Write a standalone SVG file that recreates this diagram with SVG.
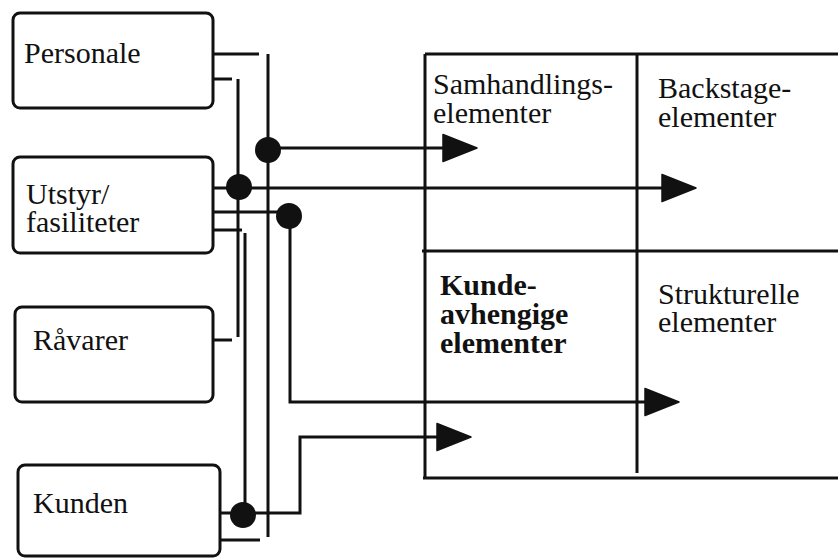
<svg xmlns="http://www.w3.org/2000/svg" width="838" height="558" viewBox="0 0 838 558">
<style>
.box{fill:#fff;stroke:#111;stroke-width:3}
.ln{fill:none;stroke:#111;stroke-width:3;stroke-linecap:butt;stroke-linejoin:miter}
.dot{fill:#111}
.t{font-family:'Liberation Serif','DejaVu Serif',serif;font-size:30px;fill:#111}
.b{font-weight:bold}
</style>
<defs>
<marker id="ah" markerUnits="userSpaceOnUse" markerWidth="36" markerHeight="28" refX="0" refY="13.5" orient="auto" overflow="visible">
<path d="M0,0 L34,13.5 L0,27 Z" fill="#111" stroke="#111" stroke-width="1.5" stroke-linejoin="round"/>
</marker>
</defs>
<rect width="838" height="558" fill="#fff"/>

<g id="personale">
<rect class="box" x="13" y="13" width="200" height="95" rx="7"/>
<text class="t" x="24" y="63" font-family="Liberation Serif, DejaVu Serif, serif">Personale</text>
</g>
<g id="utstyr">
<rect class="box" x="13" y="157" width="200" height="96" rx="7"/>
<text class="t" x="26" y="204" font-family="Liberation Serif, DejaVu Serif, serif"><tspan x="26">Utstyr/</tspan><tspan x="26" dy="28">fasiliteter</tspan></text>
</g>
<g id="ravarer">
<rect class="box" x="15" y="307" width="198" height="95" rx="7"/>
<text class="t" x="33" y="350" font-family="Liberation Serif, DejaVu Serif, serif">Råvarer</text>
</g>
<g id="kunden">
<rect class="box" x="18" y="465" width="202" height="91" rx="7"/>
<text class="t" x="33" y="513" font-family="Liberation Serif, DejaVu Serif, serif">Kunden</text>
</g>

<g id="elementer">
<path class="ln" d="M425,54 H838 M425,54 V478 M423,478 H838 M637,54 V473 M422,251 H838"/>
<text class="t" x="433" y="94" font-family="Liberation Serif, DejaVu Serif, serif"><tspan x="433">Samhandlings-</tspan><tspan x="433" dy="29">elementer</tspan></text>
<text class="t" x="658" y="98" font-family="Liberation Serif, DejaVu Serif, serif"><tspan x="658">Backstage-</tspan><tspan x="658" dy="29">elementer</tspan></text>
<text class="t b" x="440" y="295" font-family="Liberation Serif, DejaVu Serif, serif"><tspan x="440">Kunde-</tspan><tspan x="440" dy="29">avhengige</tspan><tspan x="440" dy="29">elementer</tspan></text>
<text class="t" x="658" y="304" font-family="Liberation Serif, DejaVu Serif, serif"><tspan x="658">Strukturelle</tspan><tspan x="658" dy="28">elementer</tspan></text>
</g>

<g id="connectors">
<path class="ln" d="M213,54 H259"/>
<path class="ln" d="M268,54 V537"/>
<path class="ln" d="M213,79 H232"/>
<path class="ln" d="M238,79 V337"/>
<path class="ln" d="M213,340 H232"/>
<path class="ln" d="M213,230 H242"/>
<path class="ln" d="M245,233 V515"/>
<path class="ln" d="M220,540 H260"/>
<path class="ln" d="M268,148 H443" marker-end="url(#ah)"/>
<path class="ln" d="M213,188 H662" marker-end="url(#ah)"/>
<path class="ln" d="M213,212 H289"/>
<path class="ln" d="M290,216 V402 H645" marker-end="url(#ah)"/>
<path class="ln" d="M220,513 H300 V437 H437" marker-end="url(#ah)"/>
<circle class="dot" cx="268" cy="150" r="13"/>
<circle class="dot" cx="239" cy="187" r="13"/>
<circle class="dot" cx="289" cy="216" r="13"/>
<circle class="dot" cx="243" cy="515" r="13"/>
</g>
</svg>
